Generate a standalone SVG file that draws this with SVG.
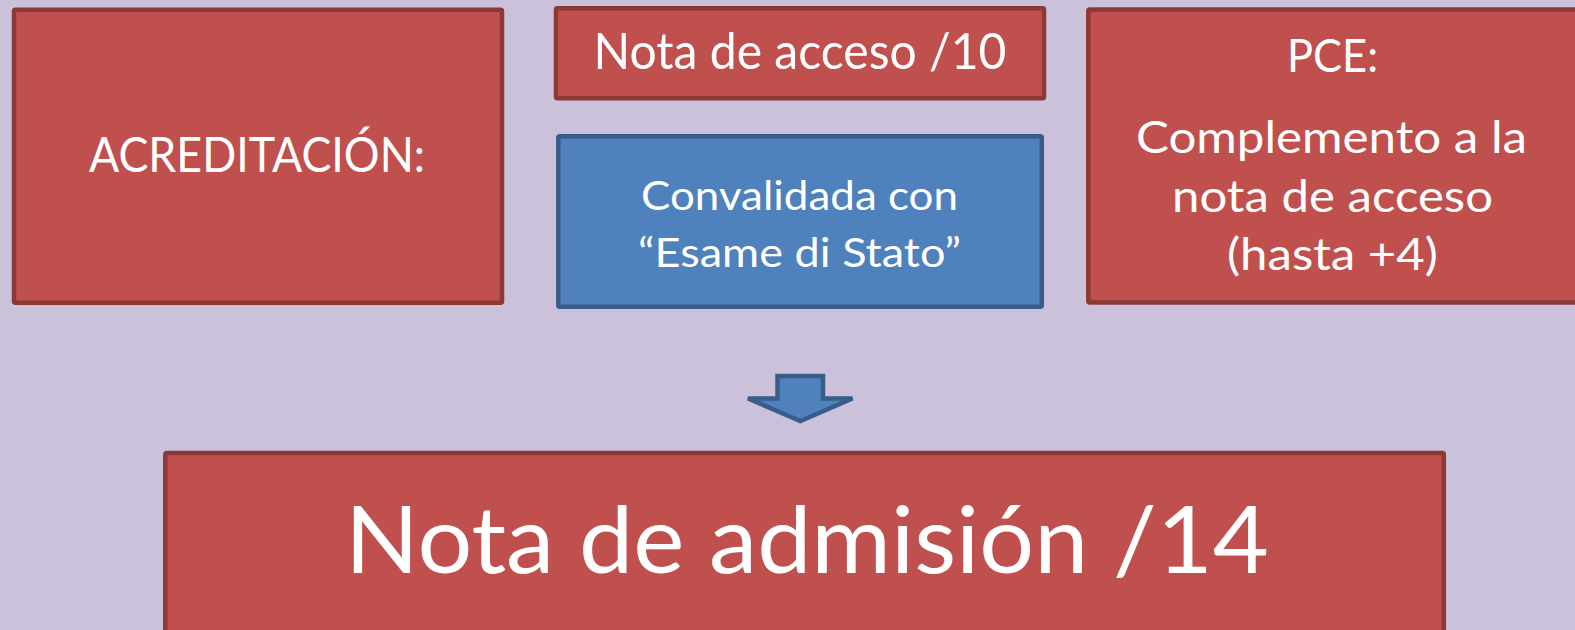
<svg xmlns="http://www.w3.org/2000/svg" width="1575" height="630" viewBox="0 0 1575 630">
<style>
.red{fill:#C0504D;stroke:#8C3836;stroke-width:4.5}
.blue{fill:#4F81BD;stroke:#385D8A;stroke-width:4.5}
.t{font-family:Lato,"Open Sans","Liberation Sans",sans-serif;fill:#FFFFFF;text-anchor:middle}
</style>
<rect x="0" y="0" width="1575" height="630" fill="#CBC1DA"/>
<g id="acreditacion">
<rect class="red" x="14" y="9.7" width="488" height="293" rx="1.5"/>
<text class="t" x="257" y="171.7" font-size="49" textLength="336" lengthAdjust="spacingAndGlyphs">ACREDITACIÓN:</text>
</g>
<g id="nota-acceso">
<rect class="red" x="556" y="8.3" width="488" height="90" rx="1.5"/>
<text class="t" x="800" y="69" font-size="49.5" textLength="413" lengthAdjust="spacingAndGlyphs">Nota de acceso /10</text>
</g>
<g id="convalidada">
<rect class="blue" x="558.3" y="136.3" width="483.5" height="170.4" rx="1.5"/>
<text class="t" x="799.5" y="209.5" font-size="40" textLength="317" lengthAdjust="spacingAndGlyphs">Convalidada con</text>
<text class="t" x="799.5" y="266.5" font-size="40" textLength="323" lengthAdjust="spacingAndGlyphs">“Esame di Stato”</text>
</g>
<g id="pce">
<rect class="red" x="1088.3" y="9.6" width="490" height="293" rx="1.5"/>
<text class="t" x="1332.5" y="71.7" font-size="46" textLength="91" lengthAdjust="spacingAndGlyphs">PCE:</text>
<text class="t" x="1331.5" y="153.3" font-size="45" textLength="391" lengthAdjust="spacingAndGlyphs">Complemento a la</text>
<text class="t" x="1332.5" y="211.7" font-size="45" textLength="321" lengthAdjust="spacingAndGlyphs">nota de acceso</text>
<text class="t" x="1332.5" y="269.5" font-size="45" textLength="211" lengthAdjust="spacingAndGlyphs">(hasta +4)</text>
</g>
<g id="nota-admision">
<rect class="red" x="165.3" y="453" width="1278.5" height="300" rx="1.5"/>
<text class="t" x="807" y="573" font-size="93" textLength="924" lengthAdjust="spacingAndGlyphs">Nota de admisión /14</text>
</g>
<g id="connectors">
<polygon class="blue" stroke-width="4" stroke-linejoin="miter" points="777.5,376 823,376 823,398.5 852.5,398.5 800.3,421 748,398.5 777.5,398.5"/>
</g>
</svg>
